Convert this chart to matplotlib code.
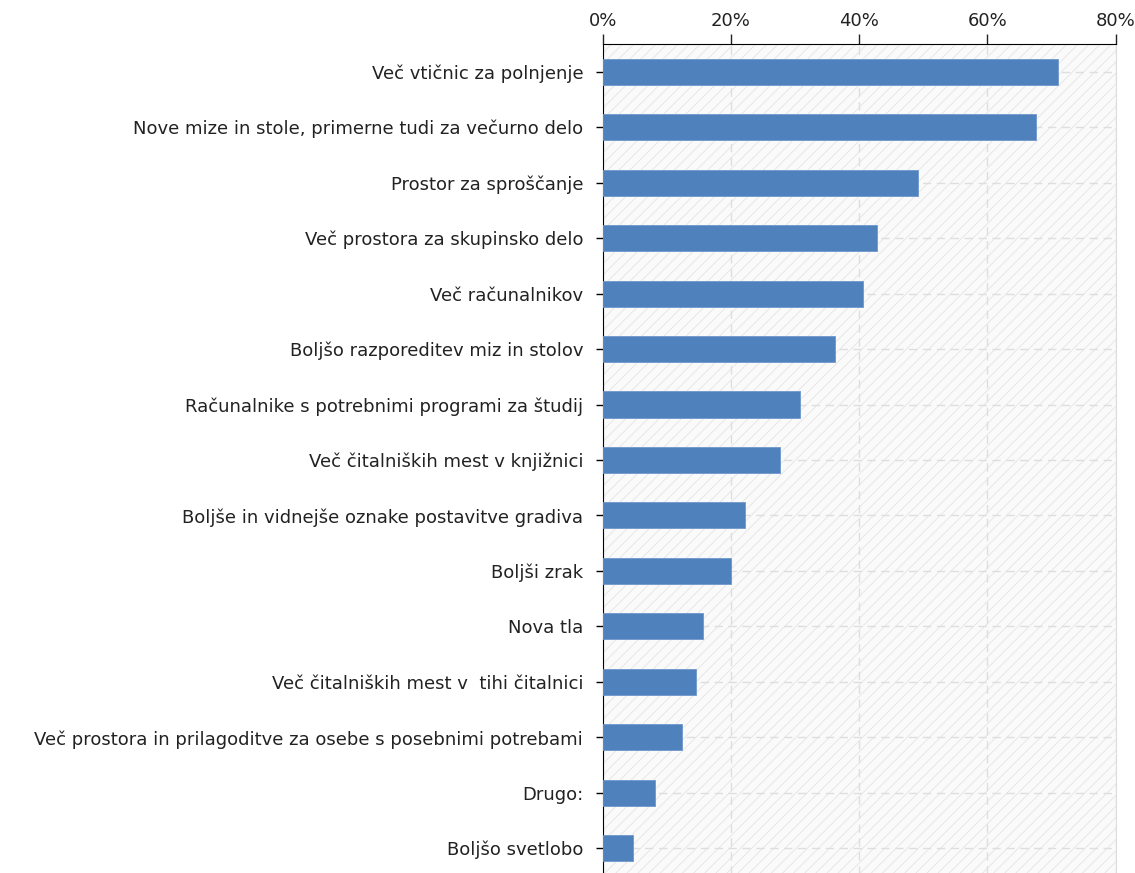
import matplotlib
matplotlib.use("Agg")
import matplotlib.pyplot as plt
from matplotlib.ticker import PercentFormatter

# podatki (odčitani s slike)
labels = [
    "Več vtičnic za polnjenje",
    "Nove mize in stole, primerne tudi za večurno delo",
    "Prostor za sproščanje",
    "Več prostora za skupinsko delo",
    "Več računalnikov",
    "Boljšo razporeditev miz in stolov",
    "Računalnike s potrebnimi programi za študij",
    "Več čitalniških mest v knjižnici",
    "Boljše in vidnejše oznake postavitve gradiva",
    "Boljši zrak",
    "Nova tla",
    "Več čitalniških mest v  tihi čitalnici",
    "Več prostora in prilagoditve za osebe s posebnimi potrebami",
    "Drugo:",
    "Boljšo svetlobo",
]
values = [71.0, 67.6, 49.1, 42.8, 40.6, 36.3, 30.8, 27.7, 22.2, 20.0, 15.6, 14.5, 12.3, 8.1, 4.8]
xticks = [0, 20, 40, 60, 80]

plt.rcParams["font.family"] = ["DejaVu Sans"]
plt.rcParams["hatch.linewidth"] = 0.6

fig = plt.figure(figsize=(11.35, 8.73), dpi=100)
ax = fig.add_axes([0.531, -0.0034, 0.452, 0.953])

ax.set_facecolor("#fafafa")
# schraffirano ozadje
bg = plt.Rectangle((0, -0.5), 80, 15, facecolor="none", edgecolor="#e4e4e4",
                   hatch="///", linewidth=0, zorder=0)
ax.add_patch(bg)

y = list(range(len(labels)))
ax.barh(y, values, height=0.47, color="#4f81bd", edgecolor="#6f97cc", linewidth=0.6, zorder=3)

ax.set_xlim(0, 80)
ax.set_ylim(len(labels) - 0.5, -0.5)
ax.set_yticks(y)
ax.set_yticklabels(labels, fontsize=13, color="#222222")
ax.set_xticks(xticks)
ax.xaxis.set_major_formatter(PercentFormatter(decimals=0))
ax.xaxis.tick_top()
ax.tick_params(axis="x", labelsize=13, length=7, width=1, colors="#222222", pad=3)
ax.tick_params(axis="y", length=5, width=1, pad=9)

ax.grid(True, color="#dedede", linestyle=(0, (6, 4)), linewidth=1, zorder=1)
ax.set_axisbelow(True)

ax.spines["bottom"].set_visible(False)
ax.spines["right"].set_color("#dddddd")
ax.spines["top"].set_color("black")
ax.spines["left"].set_color("black")

fig.savefig("out.png", dpi=100)
